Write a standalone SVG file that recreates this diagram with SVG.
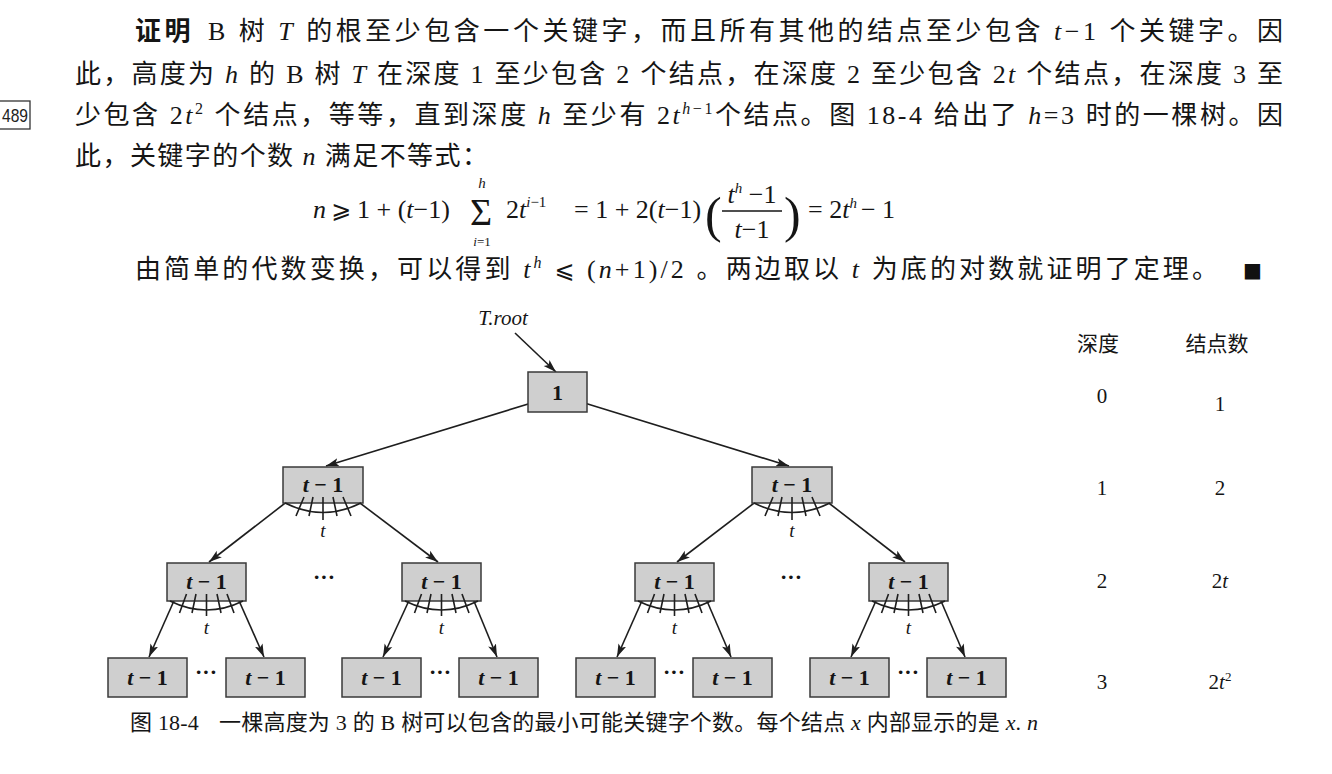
<svg xmlns="http://www.w3.org/2000/svg" width="1332" height="774" viewBox="0 0 1332 774">
<style>
.body{font-family:"Liberation Serif","Noto Sans CJK SC",serif;font-size:26px;fill:#151515}
.i{font-style:italic}
.b{font-weight:bold}
.sup{font-size:16px}
.math{font-family:"Liberation Serif","DejaVu Serif",serif;font-size:26px;fill:#151515}
.sym{font-family:"DejaVu Sans","DejaVu Serif",sans-serif}
.node{fill:#cfcfcf;stroke:#3a3a3a;stroke-width:1.5}
.lbl{font-family:"Liberation Serif",serif;font-size:22px;font-weight:bold;fill:#151515;text-anchor:middle}
.edge{stroke:#1e1e1e;stroke-width:1.6;fill:none;marker-end:url(#ah)}
.fan{stroke:#1e1e1e;stroke-width:1.6;fill:none}
.ft{font-family:"Liberation Serif",serif;font-size:19px;font-style:italic;fill:#151515;text-anchor:middle}
.dots{font-family:"Liberation Serif",serif;font-size:22px;font-weight:bold;fill:#151515;text-anchor:middle}
.tab{font-family:"Liberation Serif","Noto Sans CJK SC",serif;font-size:21px;fill:#151515;text-anchor:middle}
.cap{font-family:"Liberation Serif","Noto Sans CJK SC",serif;font-size:22px;fill:#151515}
</style>
<defs>
<marker id="ah" markerUnits="userSpaceOnUse" markerWidth="14" markerHeight="10" refX="13" refY="5" orient="auto">
<path d="M0,0.8 L13,5 L0,9.2 L3,5 Z" fill="#1e1e1e"/>
</marker>
</defs>
<rect width="1332" height="774" fill="#ffffff"/>

<g id="text-body">
<text class="body" x="135" y="40" textLength="1148" lengthAdjust="spacing"><tspan class="b">证明</tspan><tspan dx="14">B 树 </tspan><tspan class="i">T</tspan> 的根至少包含一个关键字，而且所有其他的结点至少包含 <tspan class="i">t</tspan>−1 个关键字。因</text>
<text class="body" x="75" y="83" textLength="1208" lengthAdjust="spacing">此，高度为 <tspan class="i">h</tspan> 的 B 树 <tspan class="i">T</tspan> 在深度 1 至少包含 2 个结点，在深度 2 至少包含 2<tspan class="i">t</tspan> 个结点，在深度 3 至</text>
<g id="margin-489">
<rect x="-6" y="101" width="36" height="28" fill="none" stroke="#333" stroke-width="1.3"/>
<text x="2" y="122" font-family="Liberation Sans,sans-serif" font-size="19" fill="#222" textLength="26" lengthAdjust="spacingAndGlyphs">489</text>
</g>
<text class="body" x="75" y="124" textLength="1208" lengthAdjust="spacing">少包含 2<tspan class="i">t</tspan><tspan class="sup" dy="-10">2</tspan><tspan dy="10"> 个结点，等等，直到深度 </tspan><tspan class="i">h</tspan> 至少有 2<tspan class="i">t</tspan><tspan class="sup i" dy="-10">h</tspan><tspan class="sup">−1</tspan><tspan dy="10">个结点。图 18-4 给出了 </tspan><tspan class="i">h</tspan>=3 时的一棵树。因</text>
<text class="body" x="75" y="165" textLength="413" lengthAdjust="spacing">此，关键字的个数 <tspan class="i">n</tspan> 满足不等式：</text>
<text class="body" x="135" y="278" textLength="1083" lengthAdjust="spacing">由简单的代数变换，可以得到 <tspan class="i">t</tspan><tspan class="sup i" dy="-10">h</tspan><tspan dy="10"> </tspan><tspan class="sym" style="font-size:24px">⩽</tspan> (<tspan class="i">n</tspan>+1)/2 。两边取以 <tspan class="i">t</tspan> 为底的对数就证明了定理。</text>
<text x="1243" y="277" font-family="DejaVu Sans,sans-serif" font-size="20" fill="#111">■</text>
</g>

<g id="formula">
<text class="math" x="313" y="218"><tspan class="i">n</tspan></text>
<text class="math sym" x="331" y="218" style="font-size:24px">⩾</text>
<text class="math" x="357" y="218">1 + (<tspan class="i">t</tspan>−1)</text>
<text class="math" x="470" y="225" style="font-size:38px">Σ</text>
<text class="math i" x="482" y="188" style="font-size:15px" text-anchor="middle">h</text>
<text class="math" x="482" y="246" style="font-size:13px" text-anchor="middle"><tspan class="i">i</tspan>=1</text>
<text class="math" x="506" y="218">2<tspan class="i">t</tspan><tspan style="font-size:15px" dy="-11"><tspan class="i">i</tspan>−1</tspan></text>
<text class="math" x="574" y="218">= 1 + 2(<tspan class="i">t</tspan>−1)</text>
<text class="math" x="705" y="232" style="font-size:50px">(</text>
<text class="math" x="752" y="203" text-anchor="middle"><tspan class="i">t</tspan><tspan style="font-size:15px" dy="-10" class="i">h</tspan><tspan dy="10"> −1</tspan></text>
<line x1="722" y1="211" x2="782" y2="211" stroke="#151515" stroke-width="1.4"/>
<text class="math" x="752" y="238" text-anchor="middle"><tspan class="i">t</tspan>−1</text>
<text class="math" x="784" y="232" style="font-size:50px">)</text>
<text class="math" x="808" y="218">= 2<tspan class="i">t</tspan><tspan style="font-size:15px" dy="-10" class="i">h</tspan><tspan dy="10" dx="4">− 1</tspan></text>
</g>

<g id="connectors">
<line class="edge" x1="515" y1="333" x2="556" y2="372"/>
<line class="edge" x1="538" y1="401" x2="326" y2="466"/>
<line class="edge" x1="578" y1="401" x2="789" y2="466"/>
<line class="edge" x1="293" y1="497" x2="209" y2="562"/>
<line class="edge" x1="352" y1="497" x2="438" y2="562"/>
<line class="edge" x1="762" y1="497" x2="677" y2="562"/>
<line class="edge" x1="821" y1="497" x2="905" y2="562"/>
<line class="edge" x1="177" y1="594" x2="149" y2="657"/>
<line class="edge" x1="236" y1="594" x2="264" y2="657"/>
<line class="edge" x1="412" y1="594" x2="383" y2="657"/>
<line class="edge" x1="471" y1="594" x2="497" y2="657"/>
<line class="edge" x1="645" y1="594" x2="617" y2="657"/>
<line class="edge" x1="704" y1="594" x2="731" y2="657"/>
<line class="edge" x1="879" y1="594" x2="851" y2="657"/>
<line class="edge" x1="938" y1="594" x2="965" y2="657"/>
</g>

<g id="troot-label"><text x="503" y="325" font-family="Liberation Serif,serif" font-size="21" font-style="italic" fill="#151515" text-anchor="middle">T.root</text></g>

<g id="root"><rect class="node" x="528" y="372" width="59" height="40"/><text class="lbl" x="557.5" y="400">1</text></g>

<g id="n1a"><rect class="node" x="283" y="467" width="80" height="36"/><text class="lbl" x="323" y="492"><tspan font-style="italic">t</tspan> − 1</text></g>
<g id="n1b"><rect class="node" x="752" y="467" width="80" height="36"/><text class="lbl" x="792" y="492"><tspan font-style="italic">t</tspan> − 1</text></g>

<g id="fan-n1a">
<path class="fan" d="M285,503 Q323,522 361,503"/>
<path class="fan" d="M304,497 L296,516 M313,497 L309,516 M323,497 L323,520 M333,497 L337,516 M343,497 L351,516"/>
<text class="ft" x="323" y="537">t</text>
</g>
<g id="fan-n1b">
<path class="fan" d="M754,503 Q792,522 830,503"/>
<path class="fan" d="M773,497 L765,516 M782,497 L778,516 M792,497 L792,520 M802,497 L806,516 M812,497 L820,516"/>
<text class="ft" x="792" y="537">t</text>
</g>

<g id="n2a"><rect class="node" x="167" y="563" width="79" height="38"/><text class="lbl" x="206.5" y="589"><tspan font-style="italic">t</tspan> − 1</text></g>
<g id="n2b"><rect class="node" x="402" y="563" width="79" height="38"/><text class="lbl" x="441.5" y="589"><tspan font-style="italic">t</tspan> − 1</text></g>
<g id="n2c"><rect class="node" x="635" y="563" width="79" height="38"/><text class="lbl" x="674.5" y="589"><tspan font-style="italic">t</tspan> − 1</text></g>
<g id="n2d"><rect class="node" x="869" y="563" width="79" height="38"/><text class="lbl" x="908.5" y="589"><tspan font-style="italic">t</tspan> − 1</text></g>

<g id="fan-n2a">
<path class="fan" d="M170,601 Q206.5,619 243,601"/>
<path class="fan" d="M186.5,594 L179.5,613 M196,594 L192,613 M206.5,594 L206.5,616 M217,594 L221,613 M227,594 L234,613"/>
<text class="ft" x="206.5" y="634">t</text>
</g>
<g id="fan-n2b">
<path class="fan" d="M405,601 Q441.5,619 478,601"/>
<path class="fan" d="M421.5,594 L414.5,613 M431,594 L427,613 M441.5,594 L441.5,616 M452,594 L456,613 M462,594 L469,613"/>
<text class="ft" x="441.5" y="634">t</text>
</g>
<g id="fan-n2c">
<path class="fan" d="M638,601 Q674.5,619 711,601"/>
<path class="fan" d="M654.5,594 L647.5,613 M664,594 L660,613 M674.5,594 L674.5,616 M685,594 L689,613 M695,594 L702,613"/>
<text class="ft" x="674.5" y="634">t</text>
</g>
<g id="fan-n2d">
<path class="fan" d="M872,601 Q908.5,619 945,601"/>
<path class="fan" d="M888.5,594 L881.5,613 M898,594 L894,613 M908.5,594 L908.5,616 M919,594 L923,613 M929,594 L936,613"/>
<text class="ft" x="908.5" y="634">t</text>
</g>

<g id="n3a"><rect class="node" x="108" y="658" width="79" height="39"/><text class="lbl" x="147.5" y="685"><tspan font-style="italic">t</tspan> − 1</text></g>
<g id="n3b"><rect class="node" x="226" y="658" width="79" height="39"/><text class="lbl" x="265.5" y="685"><tspan font-style="italic">t</tspan> − 1</text></g>
<g id="n3c"><rect class="node" x="342" y="658" width="79" height="39"/><text class="lbl" x="381.5" y="685"><tspan font-style="italic">t</tspan> − 1</text></g>
<g id="n3d"><rect class="node" x="459" y="658" width="79" height="39"/><text class="lbl" x="498.5" y="685"><tspan font-style="italic">t</tspan> − 1</text></g>
<g id="n3e"><rect class="node" x="576" y="658" width="79" height="39"/><text class="lbl" x="615.5" y="685"><tspan font-style="italic">t</tspan> − 1</text></g>
<g id="n3f"><rect class="node" x="693" y="658" width="79" height="39"/><text class="lbl" x="732.5" y="685"><tspan font-style="italic">t</tspan> − 1</text></g>
<g id="n3g"><rect class="node" x="810" y="658" width="79" height="39"/><text class="lbl" x="849.5" y="685"><tspan font-style="italic">t</tspan> − 1</text></g>
<g id="n3h"><rect class="node" x="927" y="658" width="79" height="39"/><text class="lbl" x="966.5" y="685"><tspan font-style="italic">t</tspan> − 1</text></g>

<g id="ellipses">
<text class="dots" x="324" y="584">···</text>
<text class="dots" x="791" y="584">···</text>
<text class="dots" x="206" y="679">···</text>
<text class="dots" x="440" y="679">···</text>
<text class="dots" x="674" y="679">···</text>
<text class="dots" x="908" y="679">···</text>
</g>

<g id="depth-table">
<text class="tab" x="1098" y="351">深度</text>
<text class="tab" x="1217" y="351">结点数</text>
<text class="tab" x="1102" y="403">0</text>
<text class="tab" x="1220" y="411">1</text>
<text class="tab" x="1102" y="495">1</text>
<text class="tab" x="1220" y="495">2</text>
<text class="tab" x="1102" y="588">2</text>
<text class="tab" x="1220" y="588">2<tspan font-style="italic">t</tspan></text>
<text class="tab" x="1102" y="689">3</text>
<text class="tab" x="1220" y="689">2<tspan font-style="italic">t</tspan><tspan font-size="13" dy="-8">2</tspan></text>
</g>

<g id="caption">
<text class="cap" x="130" y="730" textLength="908" lengthAdjust="spacing">图 18-4<tspan dx="20">一棵高度为 3 的 B 树可以包含的最小可能关键字个数。每个结点 </tspan><tspan class="i">x</tspan> 内部显示的是 <tspan class="i">x</tspan>. <tspan class="i">n</tspan></text>
</g>
</svg>
